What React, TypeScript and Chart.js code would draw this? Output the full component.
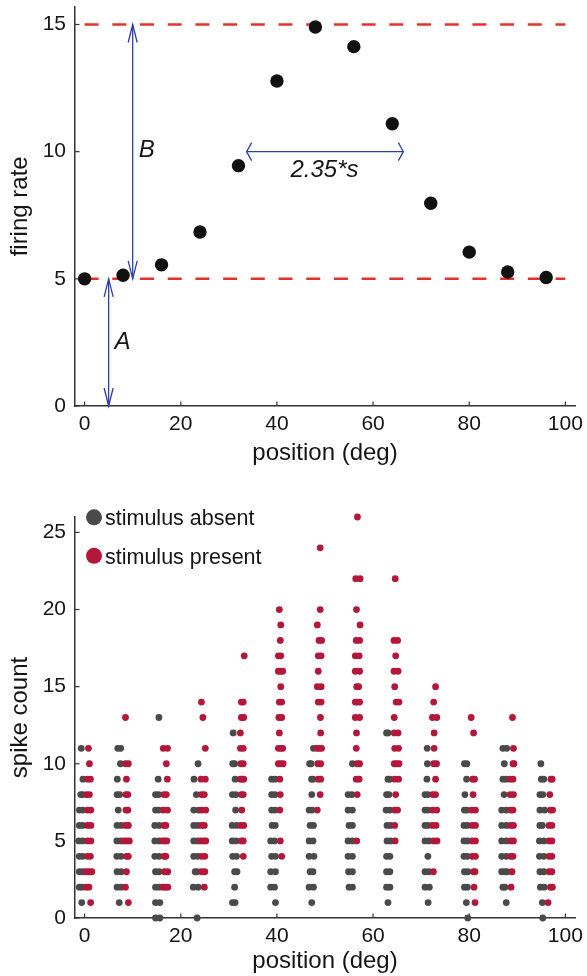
import React, { useEffect, useRef } from 'react';
import { Chart, registerables } from 'chart.js';

Chart.register(...registerables);

// ---------- data ----------
const POSITIONS = [0, 8, 16, 24, 32, 40, 48, 56, 64, 72, 80, 88, 96];
const FIRING_RATE = [5.0, 5.14, 5.55, 6.84, 9.45, 12.78, 14.9, 14.13, 11.1, 7.97, 6.05, 5.27, 5.05];

const X_TICKS = [0, 20, 40, 60, 80, 100];
const Y_TICKS_TOP = [0, 5, 10, 15];
const Y_TICKS_BOTTOM = [0, 5, 10, 15, 20, 25];

const BASELINE_LEVEL = 5; // A
const PEAK_LEVEL = 15; // A + B
const LEVEL_LINE_X = [0, 100];

const ARROW_A_X = [5, 5];
const ARROW_A_Y = [0, 5];
const ARROW_B_X = [10, 10];
const ARROW_B_Y = [5, 15];
const ARROW_S_X = [33.7, 66.3];
const ARROW_S_Y = [10, 10];
const NOTE_TEXT = ['A', 'B', '2.35*s'];
const NOTE_X = [7.9, 12.9, 49.9];
const NOTE_Y = [2.5, 10.05, 9.25];

const LEGEND_LABELS = ['stimulus absent', 'stimulus present'];

// spike counts: each row = [count, x-offsets of the dots from the column position]
const ABSENT_00 = [[11, -0.7], [9, -0.35], [8, -0.8, -0.4], [7, -1.1, -0.4], [6, -1.1, -0.4], [5, -1.2, -0.4], [4, -1.1, -0.4], [3, -1.1, -0.4], [2, -1.1, -0.5], [1, -0.6]];
const PRESENT_00 = [[11, 0.8], [10, 1.0], [9, 0.6, 1.2], [8, 0.4, 1.0], [7, 0.6, 1.3], [6, 0.6, 1.3], [5, 0.6, 1.3], [4, 0.6, 1.2], [3, 0.3, 0.9, 1.5], [2, 0.3, 0.9], [1, 1.25]];
const ABSENT_08 = [[11, -1.1, -0.5], [10, -0.55], [9, -1.2], [8, -1.25, -0.7], [7, -1.0], [6, -1.25, -0.4], [5, -1.3, -0.5], [4, -1.3, -0.4], [3, -1.25, -0.4], [2, -1.25, -0.4], [1, -0.8]];
const PRESENT_08 = [[13, 0.5], [10, 0.5, 1.1], [9, 0.7], [8, 0.6, 1.0], [7, 0.6, 1.0], [6, 0.5, 1.1], [5, 0.15, 0.7, 1.3], [4, 0.7, 1.1], [3, 0.7], [2, 0.5], [1, 1.1]];
const ABSENT_16 = [[13, -0.55], [9, -0.7], [8, -1.25, -0.6], [7, -1.25, -0.6], [6, -1.4, -0.5], [5, -1.4, -0.5], [4, -1.4, -0.5], [3, -1.25, -0.5], [2, -1.25, -0.5], [1, -1.25, -0.35], [0, -1.25, -0.35]];
const PRESENT_16 = [[11, 0.35, 1.25], [10, 1.0], [9, 1.2], [8, 0.5, 1.0], [7, 0.35, 1.25], [6, 0.5, 0.9], [5, 0.2, 0.7, 1.1], [4, 0.5, 0.9], [3, 0.6, 1.3], [2, 0.3, 0.8, 1.3]];
const ABSENT_24 = [[10, -0.4], [9, -1.25], [8, -0.75], [7, -1.3, -0.3], [6, -1.3, -0.5], [5, -1.3, -0.5], [4, -1.3, -0.5], [3, -1.0, -0.7], [2, -1.4, -0.4], [0, -0.6]];
const PRESENT_24 = [[14, 0.3], [13, 0.6], [11, 1.1], [9, 0.2, 1.1], [8, 0.3, 0.9], [7, 0.3, 1.2], [6, 0.3, 0.9], [5, 0.1, 0.7, 1.2], [4, 0.3, 1.0], [3, 0.3, 1.0], [2, 0.9]];
const ABSENT_32 = [[12, -1.1], [10, -1.2, -0.8], [9, -0.7], [8, -1.25, -0.55], [7, -0.6], [6, -1.3, -0.4], [5, -1.3, -0.5], [4, -1.2, -0.4], [3, -0.8, -0.3], [2, -0.8], [1, -1.25, -0.7]];
const PRESENT_32 = [[17, 1.2], [14, 0.6, 1.0], [13, 0.6, 1.1], [12, 0.4], [11, 0.4, 1.0], [10, 0.5, 1.0], [9, 0.4, 0.8, 1.1], [8, 0.6, 1.0], [7, 0.7], [6, 0.5, 1.1], [5, 0.6, 1.0], [4, 1.0]];
const ABSENT_40 = [[9, -1.1, -0.4], [8, -1.1, -0.4], [7, -1.1, -0.4], [6, -1.0, -0.35], [5, -1.3, -0.5], [4, -1.1, -0.3], [3, -1.3, -0.3], [2, -1.3, -0.5], [1, -0.3]];
const PRESENT_40 = [[20, 0.5], [19, 0.8], [18, 0.7], [17, 0.3, 0.8], [16, 0.3, 0.8, 1.2], [15, 0.8], [14, 0.5, 1.0], [13, 0.4, 1.0], [12, 0.5], [11, 0.3, 0.8, 1.2], [10, 0.3, 0.8, 1.3], [9, 0.6], [8, 0.7], [7, 0.6], [5, 0.7], [4, 1.0]];
const ABSENT_48 = [[11, -0.4], [10, -1.2, -0.9], [9, -0.8, -0.5], [8, -0.75], [7, -1.3, -0.7], [6, -1.1, -0.4], [5, -1.3, -0.5], [4, -1.3, -0.3], [3, -1.1, -0.5], [2, -1.3, -0.4], [1, -0.75]];
const PRESENT_48 = [[24, 1.0], [20, 1.0], [19, 0.4], [18, 0.75, 1.3], [17, 0.6, 1.2], [16, 0.6], [15, 0.4, 1.2], [14, 0.6, 1.2], [13, 1.05], [12, 1.1], [11, 0.3, 0.8, 1.3], [10, 0.5, 1.1], [9, 0.6, 1.1], [8, 1.0], [7, 0.4]];
const ABSENT_56 = [[10, -0.3], [8, -1.2, -0.4], [7, -1.2, -0.3], [6, -1.0, -0.3], [5, -1.2, -0.3], [4, -1.2, -0.3], [3, -1.1, -0.3], [2, -1.0, -0.3]];
const PRESENT_56 = [[26, 0.75], [22, 0.4, 1.3], [20, 0.55], [19, 1.3], [18, 0.5, 1.2], [17, 0.3, 1.1], [16, 0.3, 1.2], [15, 0.6, 1.0], [14, 0.3, 0.7, 1.2], [13, 0.3, 1.2], [12, 0.55], [11, 0.5], [10, 0.7, 1.2], [9, 0.5, 1.1], [8, 0.7], [5, 0.6]];
const ABSENT_64 = [[12, -1.2, -0.9], [9, -0.9, -0.5], [8, -1.2, -0.7], [7, -1.3, -0.5], [6, -1.1, -0.4], [5, -1.1, -0.3], [4, -1.2, -0.5], [3, -1.2, -0.5], [2, -1.2, -0.5], [1, -0.9]];
const PRESENT_64 = [[22, 0.6], [18, 0.35, 1.1], [17, 0.7], [16, 0.35, 1.2], [15, 0.5], [14, 0.8, 1.4], [13, 0.4], [12, 0.4, 1.2], [11, 0.5, 1.3], [10, 0.4, 0.9, 1.4], [9, 0.5, 1.3], [8, 0.7], [7, 0.5, 1.1], [6, 0.5], [5, 0.6]];
const ABSENT_72 = [[11, -0.75], [10, -0.7], [9, -0.8], [8, -1.2, -0.6], [7, -1.2, -0.6], [6, -1.2, -0.6], [5, -1.2, -0.4], [4, -0.6], [3, -1.2, -0.4], [2, -1.2, -0.3], [1, -0.55]];
const PRESENT_72 = [[15, 1.0], [14, 0.6], [13, 0.35, 1.25], [12, 0.7], [11, 0.7], [10, 0.6, 1.2], [9, 1.0], [8, 0.4, 1.0], [7, 0.35, 1.25], [6, 0.35, 1.1], [5, 0.6, 1.3], [3, 0.55]];
const ABSENT_80 = [[10, -1.0, -0.5], [9, -0.55], [8, -0.9], [7, -1.0, -0.5], [6, -1.1, -0.4], [5, -1.1, -0.4], [4, -1.1, -0.4], [3, -1.0, -0.3], [2, -1.0, -0.4], [1, -0.6], [0, -0.3]];
const PRESENT_80 = [[13, 0.4], [12, 0.9], [9, 0.7, 1.1], [8, 0.8], [7, 0.5, 1.3], [6, 0.6, 1.3], [5, 0.6, 1.3], [4, 0.6, 1.3], [3, 0.9, 1.2], [2, 1.0], [1, 1.2]];
const ABSENT_88 = [[11, -1.0, -0.2], [10, -0.7], [9, -1.0, -0.35], [8, -0.75], [7, -1.25, -0.3], [6, -1.25, -0.3], [5, -1.25, -0.3], [4, -1.25, -0.3], [3, -1.25, -0.6, -0.1], [2, -1.0, -0.6], [1, -0.3]];
const PRESENT_88 = [[13, 1.0], [11, 1.2], [10, 1.1, 1.3], [9, 0.5, 1.1], [8, 0.5, 1.2], [7, 0.6, 1.1], [6, 0.6, 1.2], [5, 0.6, 1.2], [4, 0.6, 1.1], [3, 0.9], [2, 0.7]];
const ABSENT_96 = [[10, -1.1], [9, -1.0, -0.5], [8, -1.3, -0.7], [7, -1.3, -0.3], [6, -1.3, -0.8], [5, -1.4, -0.5], [4, -1.4, -0.5], [3, -1.3, -0.5], [2, -1.2, -0.4], [1, -0.8], [0, -0.7]];
const PRESENT_96 = [[9, 1.0, 1.25], [8, 0.75], [7, 0.9, 1.35], [6, 0.6, 1.2], [5, 0.6, 1.2], [4, 0.6, 1.2], [3, 0.6, 1.2], [2, 0.9, 1.3], [1, 0.4]];

const ABSENT_COLUMNS = [ABSENT_00, ABSENT_08, ABSENT_16, ABSENT_24, ABSENT_32, ABSENT_40, ABSENT_48, ABSENT_56, ABSENT_64, ABSENT_72, ABSENT_80, ABSENT_88, ABSENT_96];
const PRESENT_COLUMNS = [PRESENT_00, PRESENT_08, PRESENT_16, PRESENT_24, PRESENT_32, PRESENT_40, PRESENT_48, PRESENT_56, PRESENT_64, PRESENT_72, PRESENT_80, PRESENT_88, PRESENT_96];

// ---------- style ----------
const FONT = '"Liberation Sans", Arial, Helvetica, sans-serif';
const TEXT = '#151515';
const AXIS = '#333333';
const DOT_BLACK = '#111111';
const DASH_RED = '#e2332b';
const ARROW_BLUE = '#2f3fa6';
const GRAY = '#4a4a4a';
const CRIMSON = '#b3173a';
const TICK_LEN = 4.5;

function buildPoints(cols: number[][][]) {
  const pts: { x: number; y: number }[] = [];
  cols.forEach((rows, i) =>
    rows.forEach(([k, ...dx]) => dx.forEach((d) => pts.push({ x: POSITIONS[i] + d, y: k })))
  );
  return pts;
}

function noPad(s: any) {
  s.paddingTop = 0;
  s.paddingBottom = 0;
  s.paddingLeft = 0;
  s.paddingRight = 0;
}

function xAxis(titlePadBottom: number, height: number) {
  return {
    type: 'linear',
    min: -2,
    max: 102,
    afterBuildTicks: (s: any) => {
      s.ticks = X_TICKS.map((v) => ({ value: v }));
    },
    afterFit: (s: any) => {
      s.height = height;
      noPad(s);
    },
    grid: { display: false, drawTicks: false },
    border: { display: true, color: AXIS, width: 1.5 },
    ticks: { font: { family: FONT, size: 21 }, color: TEXT, padding: 6, maxRotation: 0, autoSkip: false },
    title: {
      display: true,
      text: 'position (deg)',
      font: { family: FONT, size: 24 },
      color: TEXT,
      padding: { top: 0, bottom: titlePadBottom },
    },
  };
}

function yAxis(title: string, max: number, ticks: number[]) {
  return {
    type: 'linear',
    min: 0,
    max,
    afterBuildTicks: (s: any) => {
      s.ticks = ticks.map((v) => ({ value: v }));
    },
    afterFit: (s: any) => {
      s.width = 75;
      noPad(s);
    },
    grid: { display: false, drawTicks: false },
    border: { display: true, color: AXIS, width: 1.5 },
    ticks: { font: { family: FONT, size: 21 }, color: TEXT, padding: 9, autoSkip: false },
    title: {
      display: true,
      text: title,
      font: { family: FONT, size: 24 },
      color: TEXT,
      padding: { top: 5.6, bottom: 0 },
    },
  };
}

const innerTicks = {
  id: 'innerTicks',
  beforeDatasetsDraw(chart: any) {
    const { ctx, chartArea, scales } = chart;
    ctx.save();
    ctx.strokeStyle = AXIS;
    ctx.lineWidth = 1.2;
    scales.x.ticks.forEach((t: any) => {
      const px = scales.x.getPixelForValue(t.value);
      ctx.beginPath();
      ctx.moveTo(px, chartArea.bottom);
      ctx.lineTo(px, chartArea.bottom - TICK_LEN);
      ctx.stroke();
    });
    scales.y.ticks.forEach((t: any) => {
      const py = scales.y.getPixelForValue(t.value);
      ctx.beginPath();
      ctx.moveTo(chartArea.left, py);
      ctx.lineTo(chartArea.left + TICK_LEN, py);
      ctx.stroke();
    });
    ctx.restore();
  },
};

function drawHead(ctx: any, tx: number, ty: number, ux: number, uy: number, len: number, half: number) {
  const px = -uy;
  const py = ux;
  ctx.beginPath();
  ctx.moveTo(tx - ux * len + px * half, ty - uy * len + py * half);
  ctx.lineTo(tx, ty);
  ctx.lineTo(tx - ux * len - px * half, ty - uy * len - py * half);
  ctx.stroke();
}

function drawDoubleArrow(ctx: any, sx: any, sy: any, xs: number[], ys: number[]) {
  const x0 = sx.getPixelForValue(xs[0]);
  const y0 = sy.getPixelForValue(ys[0]);
  const x1 = sx.getPixelForValue(xs[1]);
  const y1 = sy.getPixelForValue(ys[1]);
  const dx = x1 - x0;
  const dy = y1 - y0;
  const d = Math.hypot(dx, dy);
  const ux = dx / d;
  const uy = dy / d;
  const vertical = Math.abs(uy) > Math.abs(ux);
  const len = vertical ? 18 : 5;
  const half = vertical ? 4.5 : 9;
  ctx.beginPath();
  ctx.moveTo(x0, y0);
  ctx.lineTo(x1, y1);
  ctx.stroke();
  drawHead(ctx, x1, y1, ux, uy, len, half);
  drawHead(ctx, x0, y0, -ux, -uy, len, half);
}

const annotations = {
  id: 'annotations',
  afterDatasetsDraw(chart: any) {
    const { ctx, scales } = chart;
    ctx.save();
    ctx.strokeStyle = ARROW_BLUE;
    ctx.lineWidth = 1.3;
    drawDoubleArrow(ctx, scales.x, scales.y, ARROW_A_X, ARROW_A_Y);
    drawDoubleArrow(ctx, scales.x, scales.y, ARROW_B_X, ARROW_B_Y);
    drawDoubleArrow(ctx, scales.x, scales.y, ARROW_S_X, ARROW_S_Y);
    ctx.fillStyle = TEXT;
    ctx.font = `italic 24px ${FONT}`;
    ctx.textAlign = 'center';
    ctx.textBaseline = 'middle';
    NOTE_TEXT.forEach((t, i) => {
      ctx.fillText(t, scales.x.getPixelForValue(NOTE_X[i]), scales.y.getPixelForValue(NOTE_Y[i]));
    });
    ctx.restore();
  },
};

const dotLegend = {
  id: 'dotLegend',
  afterDraw(chart: any) {
    const { ctx } = chart;
    const colors = [GRAY, CRIMSON];
    ctx.save();
    ctx.font = `21.5px ${FONT}`;
    ctx.textAlign = 'left';
    ctx.textBaseline = 'alphabetic';
    LEGEND_LABELS.forEach((label, i) => {
      const cy = 29.3 + i * 38.5;
      ctx.fillStyle = colors[i];
      ctx.beginPath();
      ctx.arc(94, cy, 8, 0, Math.PI * 2);
      ctx.fill();
      ctx.fillStyle = TEXT;
      ctx.fillText(label, 105, cy + 8);
    });
    ctx.restore();
  },
};

function TopChart() {
  const ref = useRef<HTMLCanvasElement>(null);
  useEffect(() => {
    if (!ref.current) return;
    const chart = new Chart(ref.current, {
      type: 'scatter',
      data: {
        datasets: [
          {
            label: 'firing rate',
            data: POSITIONS.map((p, i) => ({ x: p, y: FIRING_RATE[i] })),
            backgroundColor: DOT_BLACK,
            borderWidth: 0,
            pointRadius: 6.7,
            order: 0,
            clip: false,
          } as any,
          {
            label: 'A',
            data: LEVEL_LINE_X.map((x) => ({ x, y: BASELINE_LEVEL })),
            showLine: true,
            borderColor: DASH_RED,
            borderWidth: 2.5,
            borderDash: [14, 13.7],
            borderCapStyle: 'butt',
            pointRadius: 0,
            order: 1,
          } as any,
          {
            label: 'A+B',
            data: LEVEL_LINE_X.map((x) => ({ x, y: PEAK_LEVEL })),
            showLine: true,
            borderColor: DASH_RED,
            borderWidth: 2.5,
            borderDash: [14, 13.7],
            borderCapStyle: 'butt',
            pointRadius: 0,
            order: 1,
          } as any,
        ],
      },
      options: {
        responsive: false,
        animation: false,
        events: [],
        layout: { padding: { left: 0, right: 12, top: 5.8, bottom: 0 } },
        plugins: { legend: { display: false }, tooltip: { enabled: false } },
        scales: {
          x: xAxis(12.6, 74) as any,
          y: yAxis('firing rate', 15.7, Y_TICKS_TOP) as any,
        },
      },
      plugins: [innerTicks, annotations],
    });
    return () => chart.destroy();
  }, []);
  return <canvas ref={ref} width={587} height={480} style={{ display: 'block' }} />;
}

function BottomChart() {
  const ref = useRef<HTMLCanvasElement>(null);
  useEffect(() => {
    if (!ref.current) return;
    const chart = new Chart(ref.current, {
      type: 'scatter',
      data: {
        datasets: [
          {
            label: LEGEND_LABELS[0],
            data: buildPoints(ABSENT_COLUMNS),
            backgroundColor: GRAY,
            borderWidth: 0,
            pointRadius: 3.4,
            order: 1,
            clip: false,
          } as any,
          {
            label: LEGEND_LABELS[1],
            data: buildPoints(PRESENT_COLUMNS),
            backgroundColor: CRIMSON,
            borderWidth: 0,
            pointRadius: 3.4,
            order: 0,
            clip: false,
          } as any,
        ],
      },
      options: {
        responsive: false,
        animation: false,
        events: [],
        layout: { padding: { left: 0, right: 12, top: 29, bottom: 0 } },
        plugins: { legend: { display: false }, tooltip: { enabled: false } },
        scales: {
          x: xAxis(0, 58) as any,
          y: yAxis('spike count', 26, Y_TICKS_BOTTOM) as any,
        },
      },
      plugins: [innerTicks, dotLegend],
    });
    return () => chart.destroy();
  }, []);
  return <canvas ref={ref} width={587} height={488} style={{ display: 'block' }} />;
}

export default function App() {
  return (
    <div style={{ position: 'absolute', left: 0, top: 0, width: 587, height: 976, background: '#fff' }}>
      <div style={{ position: 'absolute', left: 0, top: 0, width: 587, height: 480 }}>
        <TopChart />
      </div>
      <div style={{ position: 'absolute', left: 0, top: 488, width: 587, height: 488 }}>
        <BottomChart />
      </div>
    </div>
  );
}
